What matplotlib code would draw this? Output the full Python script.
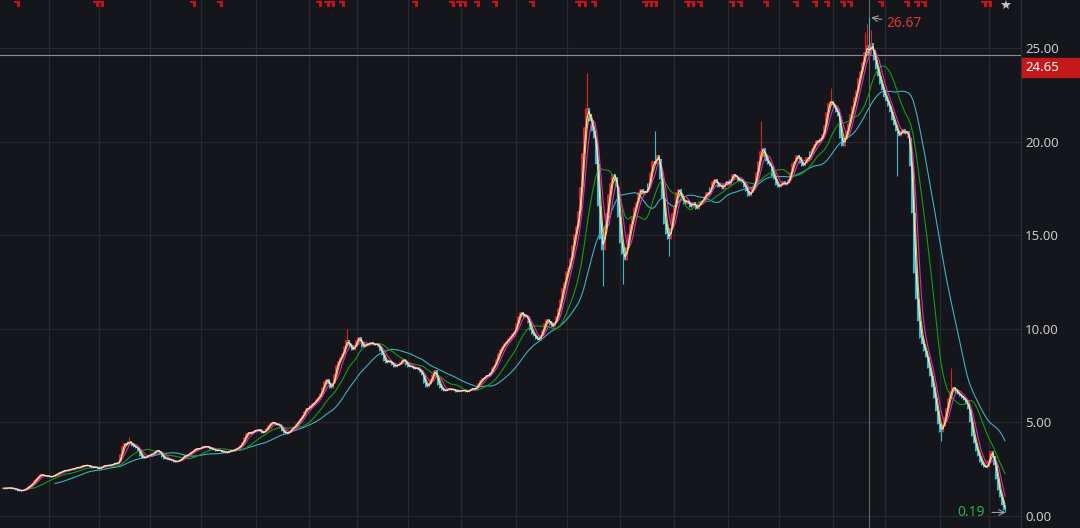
import numpy as np
import pandas as pd
import matplotlib
matplotlib.use('Agg')
import matplotlib.pyplot as plt
import matplotlib.transforms as mtransforms
from matplotlib.path import Path
from matplotlib.patches import Rectangle

plt.rcParams['font.family'] = ['Noto Sans', 'DejaVu Sans']

# closing prices, one candle per ~2 px of the reference
close = [
    1.48, 1.50, 1.47, 1.51, 1.49, 1.50, 1.46, 1.44, 1.40, 1.36,
    1.34, 1.38, 1.42, 1.50, 1.58, 1.66, 1.78, 1.90, 2.02, 2.15,
    2.22, 2.18, 2.12, 2.16, 2.10, 2.08, 2.14, 2.20, 2.26, 2.32,
    2.36, 2.40, 2.46, 2.42, 2.48, 2.52, 2.50, 2.56, 2.62, 2.58,
    2.64, 2.70, 2.68, 2.74, 2.66, 2.62, 2.58, 2.64, 2.56, 2.52,
    2.60, 2.66, 2.72, 2.68, 2.74, 2.70, 2.78, 2.84, 2.80, 2.90,
    3.30, 3.75, 3.90, 3.82, 4.00, 3.88, 3.76, 3.70, 3.62, 3.50,
    3.22, 3.08, 3.14, 3.20, 3.28, 3.24, 3.36, 3.44, 3.52, 3.46,
    3.30, 3.18, 3.04, 3.08, 2.98, 3.02, 2.94, 2.88, 2.92, 2.96,
    3.04, 3.12, 3.26, 3.22, 3.34, 3.40, 3.48, 3.56, 3.62, 3.58,
    3.66, 3.72, 3.68, 3.74, 3.64, 3.60, 3.56, 3.52, 3.48, 3.54,
    3.46, 3.40, 3.44, 3.38, 3.46, 3.52, 3.48, 3.56, 3.62, 3.68,
    3.80, 3.98, 4.20, 4.42, 4.50, 4.38, 4.52, 4.60, 4.56, 4.64,
    4.50, 4.42, 4.56, 4.70, 4.84, 4.98, 5.04, 4.92, 4.86, 4.90,
    4.70, 4.52, 4.46, 4.40, 4.48, 4.62, 4.72, 4.80, 4.96, 5.10,
    5.24, 5.40, 5.62, 5.80, 5.74, 5.92, 6.02, 6.10, 6.26, 6.38,
    6.55, 6.90, 7.20, 7.32, 7.05, 6.82, 7.10, 7.60, 8.10, 8.30,
    8.50, 8.72, 9.10, 9.40, 9.20, 9.02, 8.86, 9.10, 9.40, 9.58,
    9.30, 9.02, 9.10, 9.24, 9.16, 9.30, 9.20, 9.12, 9.24, 9.04,
    8.84, 8.60, 8.28, 8.20, 8.34, 8.18, 8.10, 7.98, 8.06, 8.12,
    8.22, 8.40, 8.30, 8.10, 7.96, 8.04, 7.92, 7.86, 7.94, 7.80,
    7.70, 7.52, 7.10, 6.90, 7.06, 7.30, 7.60, 7.80, 7.40, 7.00,
    6.86, 6.74, 6.68, 6.76, 6.82, 6.74, 6.80, 6.70, 6.64, 6.72,
    6.66, 6.74, 6.70, 6.62, 6.72, 6.78, 6.84, 6.76, 6.92, 7.10,
    7.28, 7.36, 7.44, 7.56, 7.50, 7.72, 7.96, 8.10, 8.40, 8.70,
    8.92, 9.10, 9.26, 9.34, 9.50, 9.62, 9.76, 9.90, 10.30, 10.70,
    10.90, 10.80, 10.62, 10.70, 10.30, 9.92, 9.74, 9.60, 9.46, 9.40,
    9.70, 9.96, 10.30, 10.52, 10.40, 10.24, 10.12, 10.38, 10.70, 11.10,
    11.60, 12.20, 12.50, 13.10, 13.30, 13.80, 14.50, 15.10, 15.50, 16.30,
    17.60, 19.40, 20.80, 21.80, 21.50, 21.10, 20.60, 20.20, 18.80, 16.60,
    14.80, 14.20, 15.40, 16.20, 17.20, 17.80, 18.30, 18.10, 17.60, 16.00,
    14.60, 14.00, 13.70, 14.40, 15.10, 15.60, 16.00, 16.50, 16.80, 17.30,
    17.50, 17.20, 17.40, 17.30, 17.80, 18.40, 19.00, 18.80, 19.30, 19.10,
    18.00, 17.00, 15.60, 15.10, 14.80, 15.40, 16.20, 16.60, 17.30, 17.50,
    17.10, 16.90, 16.70, 16.90, 16.70, 16.50, 16.80, 16.60, 16.40, 16.70,
    16.80, 16.90, 17.10, 17.30, 17.20, 17.60, 17.90, 18.00, 17.80, 17.60,
    17.70, 17.50, 17.80, 17.90, 17.70, 18.00, 18.30, 18.20, 18.10, 17.90,
    18.00, 17.80, 17.60, 17.40, 17.10, 17.30, 17.60, 17.80, 18.40, 19.00,
    19.50, 19.70, 19.20, 19.00, 18.80, 18.70, 18.20, 18.00, 17.70, 17.60,
    17.70, 17.90, 17.70, 17.80, 18.00, 18.40, 18.90, 19.00, 19.30, 19.20,
    18.90, 18.70, 18.90, 19.20, 19.10, 19.50, 19.70, 19.90, 20.10, 20.00,
    20.20, 20.40, 20.90, 21.60, 22.10, 22.20, 22.00, 21.80, 21.60, 21.40,
    20.20, 19.80, 20.20, 20.60, 21.00, 21.50, 21.90, 22.40, 22.80, 23.40,
    23.80, 24.30, 24.80, 25.20, 24.65, 25.30, 24.90, 24.40, 23.90, 23.50,
    23.10, 22.80, 22.40, 22.20, 21.90, 21.60, 21.20, 20.90, 20.60, 20.30,
    20.50, 20.70, 20.40, 20.60, 20.20, 18.70, 16.20, 13.00, 11.60, 10.40,
    9.50, 9.20, 8.80, 8.50, 7.90, 7.50, 6.90, 6.30, 5.60, 4.90,
    4.50, 4.80, 5.30, 5.80, 6.30, 6.70, 6.90, 6.80, 6.60, 6.50,
    6.40, 6.30, 6.20, 6.00, 5.70, 5.00, 4.30, 3.90, 3.50, 3.20,
    2.90, 2.70, 2.60, 2.60, 3.00, 3.50, 3.20, 2.70, 2.00, 1.40,
    1.00, 0.60, 0.30,
]

# wicks that stick out past the bodies
wick_hi_idx = [64, 173, 293, 327, 380, 415, 432, 433, 434, 435, 475]
wick_hi_val = [4.25, 10.0, 23.7, 20.6, 21.1, 22.9, 25.9, 26.3, 26.67, 26.0, 7.9]
wick_lo_idx = [301, 311, 334, 448, 470, 502]
wick_lo_val = [12.3, 12.4, 13.9, 18.2, 4.0, 0.19]

ma_windows = [2, 3, 5, 14, 28]
ma_colors = ['#e6e6e6', '#f5c11f', '#d02cd0', '#169a16', '#3bb2c2']

month_breaks = [24, 48.75, 74.25, 100, 127.5, 154, 178, 203.5, 230, 257.5,
                283, 309.5, 336.5, 363.5, 389, 416, 442, 469.5, 494]
signal_idx = [8, 47.5, 50, 96, 109.5, 159, 163, 165.5, 170.5, 207, 225.5,
              229, 231.5, 238, 247, 265.5, 288.5, 291.5, 296.5, 322, 324.5,
              327, 343, 345.5, 349.5, 365.5, 369.5, 382.5, 397.5, 407, 413,
              421, 424.5, 440, 453, 458, 461.5, 491.5, 494]
yticks = [0, 5, 10, 15, 20, 25]
cross_idx, cross_price = 434, 24.65
peak_idx, peak_val = 434, 26.67
low_idx, low_val = 502, 0.19

bg = '#14161b'
grid_col = '#26292f'
up_col = '#e0221f'
down_col = '#38bccb'

c = np.array(close)
o = np.r_[c[0], c[:-1]]
nxt = np.r_[c[1:], c[-1]]
# each candle spans a couple of sessions, so its range reaches into the next close
hi = np.maximum.reduce([o, c, nxt])
lo = np.minimum.reduce([o, c, nxt])
hi[wick_hi_idx] = wick_hi_val
lo[wick_lo_idx] = wick_lo_val
x = np.arange(len(c))
up = c >= o

fig = plt.figure(figsize=(10.8, 5.28), dpi=100, facecolor=bg)
ax = fig.add_axes([0, 0, 1021 / 1080, 1])
ax.set_facecolor(bg)
ax.set_xlim(-0.5, 510)
ax.set_ylim(-0.642, 27.59)

for v in yticks:
    ax.axhline(v, color=grid_col, lw=0.9, zorder=0)
for b in month_breaks:
    ax.axvline(b, color=grid_col, lw=0.9, zorder=0)

# crosshair sits behind the candles
ax.axhline(cross_price, color='#8c8c8c', lw=0.8, zorder=1)
ax.axvline(cross_idx, color='#6e6e6e', lw=0.7, zorder=1)

for mask, col in [(up, up_col), (~up, down_col)]:
    ax.vlines(x[mask], lo[mask], hi[mask], color=col, lw=0.8, zorder=2)
    ax.bar(x[mask], np.maximum(np.abs(c - o), 0.03)[mask], bottom=np.minimum(o, c)[mask],
           width=0.8, color=col, lw=0, zorder=2)

s = pd.Series(c)
for w, col in zip(ma_windows[::-1], ma_colors[::-1]):
    ax.plot(x, s.rolling(w).mean(), color=col, lw=0.8, zorder=3)

# event flags along the top
flag = Path([(-1, 1), (1, 1), (1, -1), (0, -1), (0, 0.3), (-1, 0.3), (-1, 1)],
            [Path.MOVETO] + [Path.LINETO] * 5 + [Path.CLOSEPOLY])
trans = mtransforms.blended_transform_factory(ax.transData, ax.transAxes)
ax.plot(signal_idx, [0.9915] * len(signal_idx), transform=trans, marker=flag,
        ms=5, mew=0, ls='none', color='#c8101a', clip_on=False, zorder=5)
ax.plot([502.5], [0.9905], transform=trans, marker='*', ms=7, mew=0, ls='none',
        color='#bfbfbf', clip_on=False, zorder=5)

ax.annotate('26.67', xy=(peak_idx + 0.4, peak_val), xytext=(442.5, 26.34),
            color='#e3333a', fontsize=10, va='center', ha='left',
            arrowprops=dict(arrowstyle='->', color='#a0a0a0', lw=0.8,
                            shrinkA=1, shrinkB=1), zorder=6)
ax.text(478, 0.21, '0.19', color='#22b34c', fontsize=10, va='center', ha='left', zorder=6)
ax.annotate('', xy=(low_idx + 0.3, low_val), xytext=(495.5, low_val),
            arrowprops=dict(arrowstyle='->', color='#a0a0a0', lw=0.8,
                            shrinkA=0, shrinkB=0), zorder=6)

ax.set_xticks([])
ax.yaxis.tick_right()
ax.set_yticks(yticks)
ax.set_yticklabels(['%.2f' % v for v in yticks])
ax.tick_params(axis='y', length=0, pad=3, labelsize=9.5, labelcolor='#c8c8c8')
for side in ['top', 'left', 'bottom']:
    ax.spines[side].set_visible(False)
ax.spines['right'].set_color('#2c2f35')
ax.spines['right'].set_linewidth(0.9)

# current price tag
fig.patches.append(Rectangle((1022 / 1080, 1 - 77 / 528), 58 / 1080, 19 / 528,
                             transform=fig.transFigure, color='#c4191b', zorder=5))
fig.text(1025 / 1080, 1 - 67.5 / 528, '%.2f' % cross_price, color='white',
         fontsize=9.5, va='center', ha='left', zorder=6)

fig.savefig('out.png', dpi=100, facecolor=bg)
